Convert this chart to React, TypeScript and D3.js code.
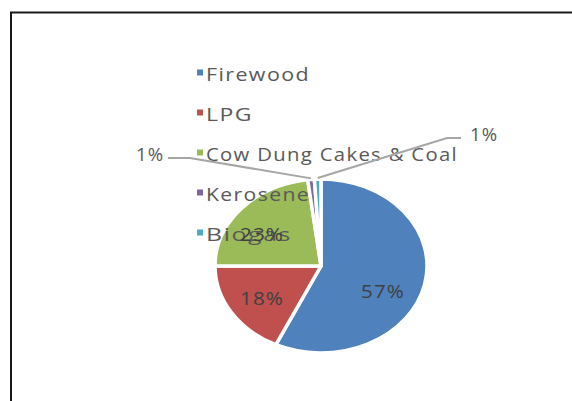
import React from "react";
import * as d3 from "d3";

const categories = ["Firewood", "LPG", "Cow Dung Cakes & Coal", "Kerosene", "Biogas"];
const values = [57, 18, 23, 1, 1];
const colors = ["#4F81BD", "#C0504D", "#9BBB59", "#8064A2", "#4BACC6"];
const labelText = ["57%", "18%", "23%", "1%", "1%"];

const W = 572;
const H = 401;
const cx = 321;
const cy = 266;
const rx = 106;
const ry = 87;

const legendX = 197;
const legendY0 = 73;
const legendStep = 40;
const legendWidths = [104, 47, 252, 104, 86];

export default function App() {
  const pie = d3.pie<number>().sort(null).startAngle(0).endAngle(2 * Math.PI);
  const arcs = pie(values);
  const arc = d3.arc<d3.PieArcDatum<number>>().innerRadius(0).outerRadius(rx);
  const sy = ry / rx;

  const edgePoint = (a: d3.PieArcDatum<number>, k = 1) => {
    const m = (a.startAngle + a.endAngle) / 2;
    return [cx + rx * k * Math.sin(m), cy - ry * k * Math.cos(m)];
  };

  const inside = [
    [383, 290],
    [262, 297],
    [262, 233],
  ];

  const kero = edgePoint(arcs[3], 1.0);
  const bio = edgePoint(arcs[4], 1.0);

  return (
    <svg width={W} height={H} style={{ position: "absolute", left: 0, top: 0, background: "#fff" }}>
      <rect x={11} y={12.5} width={700} height={500} fill="#fff" stroke="#1a1a1a" strokeWidth={2} />
      <g transform={`translate(${cx},${cy}) scale(1,${sy})`}>
        {arcs.map((a, i) => (
          <path
            key={i}
            d={arc(a) || ""}
            fill={colors[i]}
            stroke="#fff"
            strokeWidth={3.5}
            vectorEffect="non-scaling-stroke"
            strokeLinejoin="round"
          />
        ))}
      </g>
      <g fontFamily="'Open Sans', 'Liberation Sans', sans-serif" fontSize={18.5} fill="#595959" letterSpacing={1.2}>
        {categories.map((c, i) => (
          <g key={c}>
            <rect x={legendX} y={legendY0 + i * legendStep - 3.5} width={6} height={6} fill={colors[i]} />
            <text
              x={legendX + 9}
              y={legendY0 + i * legendStep}
              dominantBaseline="central"
              textLength={legendWidths[i]}
              lengthAdjust="spacingAndGlyphs"
            >
              {c}
            </text>
          </g>
        ))}
      </g>
      <polyline
        points={`168,158 190,158 ${kero[0]},${kero[1] - 1}`}
        fill="none"
        stroke="#A6A6A6"
        strokeWidth={2}
      />
      <polyline
        points={`461,138 447,138 ${bio[0]},${bio[1] - 1}`}
        fill="none"
        stroke="#A6A6A6"
        strokeWidth={2}
      />
      <g fontFamily="'Open Sans', 'Liberation Sans', sans-serif" fontSize={18.5} fill="#404040" letterSpacing={1}>
        {inside.map((p, i) => (
          <text key={i} x={p[0]} y={p[1]} textAnchor="middle" dominantBaseline="central" textLength={44} lengthAdjust="spacingAndGlyphs">
            {labelText[i]}
          </text>
        ))}
        <text x={150} y={153} textAnchor="middle" dominantBaseline="central" fill="#595959" textLength={28} lengthAdjust="spacingAndGlyphs">
          {labelText[3]}
        </text>
        <text x={484} y={133} textAnchor="middle" dominantBaseline="central" fill="#595959" textLength={28} lengthAdjust="spacingAndGlyphs">
          {labelText[4]}
        </text>
      </g>
    </svg>
  );
}
